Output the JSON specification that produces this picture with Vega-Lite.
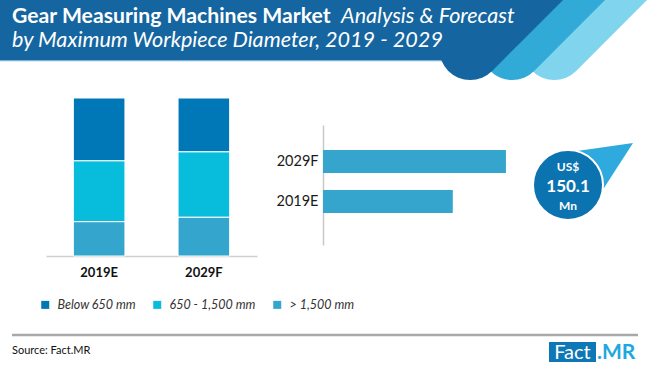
{
  "$schema": "https://vega.github.io/schema/vega-lite/v6.json",
  "width": 650,
  "height": 376,
  "padding": 0,
  "autosize": {"type": "none"},
  "background": "white",
  "config": {"view": {"stroke": null}, "font": "Lato"},
  "datasets": {
    "share": [
      {"year": "2019E", "segment": "Below 650 mm", "share": 39.8, "rank": 3},
      {"year": "2019E", "segment": "650 - 1,500 mm", "share": 38.5, "rank": 2},
      {"year": "2019E", "segment": "> 1,500 mm", "share": 21.7, "rank": 1},
      {"year": "2029F", "segment": "Below 650 mm", "share": 34.1, "rank": 3},
      {"year": "2029F", "segment": "650 - 1,500 mm", "share": 41.4, "rank": 2},
      {"year": "2029F", "segment": "> 1,500 mm", "share": 24.5, "rank": 1}
    ],
    "market": [
      {"year": "2029F", "value": 150.1},
      {"year": "2019E", "value": 106.5}
    ]
  },
  "resolve": {
    "scale": {"x": "independent", "y": "independent"},
    "axis": {"x": "independent", "y": "independent"}
  },
  "layer": [
    {
      "data": {"values": [{}]},
      "layer": [
        {
          "mark": {"type": "rule", "strokeWidth": 62, "strokeCap": "round", "color": "#80d4ee", "clip": true},
          "encoding": {
            "x": {"datum": 554.2, "type": "quantitative", "scale": {"domain": [0, 650], "range": [0, 650], "nice": false, "zero": false}, "axis": null},
            "y": {"datum": 49, "type": "quantitative", "scale": {"domain": [0, 376], "range": [0, 376], "nice": false, "zero": false}, "axis": null},
            "x2": {"datum": 674.2},
            "y2": {"datum": -71}
          }
        },
        {
          "mark": {"type": "rule", "strokeWidth": 62, "strokeCap": "round", "color": "#31aad8", "clip": true},
          "encoding": {"x": {"datum": 512.2}, "y": {"datum": 49}, "x2": {"datum": 632.2}, "y2": {"datum": -71}}
        },
        {
          "mark": {"type": "rect", "color": "#1565a0"},
          "encoding": {"x": {"datum": 0}, "x2": {"datum": 480}, "y": {"datum": 0}, "y2": {"datum": 60}}
        },
        {
          "mark": {"type": "rule", "strokeWidth": 1.2, "color": "#7fb0d6"},
          "encoding": {"x": {"datum": 0}, "x2": {"datum": 445}, "y": {"datum": 60.6}}
        },
        {
          "mark": {"type": "rule", "strokeWidth": 62, "strokeCap": "round", "color": "#1565a0", "clip": true},
          "encoding": {"x": {"datum": 470.2}, "y": {"datum": 49}, "x2": {"datum": 590.2}, "y2": {"datum": -71}}
        },
        {
          "mark": {"type": "text", "align": "left", "baseline": "alphabetic", "font": "Lato", "fontSize": 21.2, "fontWeight": "bold", "color": "white"},
          "encoding": {"x": {"datum": 12}, "y": {"datum": 23}, "text": {"value": "Gear Measuring Machines Market"}}
        },
        {
          "mark": {"type": "text", "align": "left", "baseline": "alphabetic", "font": "Lato", "fontSize": 21.6, "fontStyle": "italic", "color": "white"},
          "encoding": {"x": {"datum": 341}, "y": {"datum": 23}, "text": {"value": "Analysis & Forecast"}}
        },
        {
          "mark": {"type": "text", "align": "left", "baseline": "alphabetic", "font": "Lato", "fontSize": 21.6, "fontStyle": "italic", "color": "white"},
          "encoding": {"x": {"datum": 12}, "y": {"datum": 46.5}, "text": {"value": "by Maximum Workpiece Diameter, 2019 - 2029"}}
        },
        {
          "mark": {"type": "rule", "strokeWidth": 2.5, "color": "#a9a9a9"},
          "encoding": {"x": {"datum": 12}, "x2": {"datum": 638}, "y": {"datum": 335}}
        },
        {
          "mark": {"type": "text", "align": "left", "baseline": "middle", "font": "Lato", "fontSize": 11, "color": "#111111"},
          "encoding": {"x": {"datum": 12}, "y": {"datum": 351}, "text": {"value": "Source: Fact.MR"}}
        },
        {
          "mark": {"type": "rect", "color": "#0e77b5"},
          "encoding": {"x": {"datum": 549}, "x2": {"datum": 596}, "y": {"datum": 342}, "y2": {"datum": 362}}
        },
        {
          "mark": {"type": "text", "align": "center", "baseline": "middle", "font": "Lato", "fontSize": 20, "color": "white"},
          "encoding": {"x": {"datum": 572.5}, "y": {"datum": 352.5}, "text": {"value": "Fact"}}
        },
        {
          "mark": {"type": "text", "align": "left", "baseline": "middle", "font": "Lato", "fontSize": 21, "fontWeight": "bold", "color": "#1da8df"},
          "encoding": {"x": {"datum": 597}, "y": {"datum": 352.5}, "text": {"value": ".MR"}}
        },
        {
          "data": {"name": "market"},
          "transform": [{"filter": "datum.year === '2029F'"}],
          "mark": {"type": "point", "shape": "M0,0L0.136,-0.515L0.985,-0.636L0.545,0.045Z", "size": 17424, "filled": true, "color": "#2eaadf", "opacity": 1, "strokeWidth": 0},
          "encoding": {"x": {"datum": 568}, "y": {"datum": 185}}
        },
        {
          "data": {"name": "market"},
          "transform": [{"filter": "datum.year === '2029F'"}],
          "mark": {"type": "point", "shape": "circle", "size": 4900, "filled": true, "fill": "#0a73b0", "stroke": "white", "strokeWidth": 2, "opacity": 1},
          "encoding": {"x": {"datum": 568}, "y": {"datum": 185}}
        },
        {
          "mark": {"type": "text", "align": "center", "baseline": "middle", "font": "Lato", "fontSize": 12, "fontWeight": "bold", "color": "white"},
          "encoding": {"x": {"datum": 568}, "y": {"datum": 167}, "text": {"value": "US$"}}
        },
        {
          "data": {"name": "market"},
          "transform": [{"filter": "datum.year === '2029F'"}],
          "mark": {"type": "text", "align": "center", "baseline": "middle", "font": "Lato", "fontSize": 17, "fontWeight": "bold", "color": "white"},
          "encoding": {"x": {"datum": 568}, "y": {"datum": 187}, "text": {"field": "value", "type": "quantitative", "format": ".1f"}}
        },
        {
          "mark": {"type": "text", "align": "center", "baseline": "middle", "font": "Lato", "fontSize": 12, "fontWeight": "bold", "color": "white"},
          "encoding": {"x": {"datum": 568}, "y": {"datum": 206}, "text": {"value": "Mn"}}
        }
      ]
    },
    {
      "data": {"name": "share"},
      "mark": {"type": "bar", "stroke": "white", "strokeWidth": 1},
      "encoding": {
        "x": {
          "field": "year", "type": "nominal", "sort": ["2019E", "2029F"],
          "scale": {"range": [46, 257], "paddingInner": 0.507, "paddingOuter": 0.261},
          "axis": {"title": null, "orient": "bottom", "offset": -120, "domainColor": "#d0d0d0", "domainWidth": 1.5, "ticks": false, "labelAngle": 0, "labelFont": "Lato", "labelFontWeight": "bold", "labelFontSize": 13, "labelColor": "#111111", "labelPadding": 10, "grid": false}
        },
        "y": {
          "field": "share", "type": "quantitative", "stack": "zero",
          "scale": {"domain": [0, 100], "range": [256, 98], "nice": false, "zero": true},
          "axis": null
        },
        "color": {
          "field": "segment", "type": "nominal",
          "scale": {"domain": ["Below 650 mm", "650 - 1,500 mm", "> 1,500 mm"], "range": ["#0077b6", "#08bcdc", "#34a5cd"]},
          "legend": {"orient": "none", "legendX": 39, "legendY": 298.5, "direction": "horizontal", "title": null, "symbolType": "square", "symbolSize": 64, "symbolStrokeWidth": 0, "labelFont": "Lato", "labelFontStyle": "italic", "labelFontSize": 12.5, "labelColor": "#333333", "labelOffset": 6, "columnPadding": 15, "padding": 0}
        },
        "order": {"field": "rank", "type": "quantitative"}
      }
    },
    {
      "data": {"name": "market"},
      "mark": {"type": "bar", "color": "#35a5cd"},
      "encoding": {
        "y": {
          "field": "year", "type": "nominal", "sort": ["2029F", "2019E"],
          "scale": {"range": [125, 245], "paddingInner": 0.425, "paddingOuter": 0.7125, "align": 0.44},
          "axis": {"title": null, "orient": "left", "offset": -323, "domainColor": "#c8c8c8", "domainWidth": 1.5, "ticks": false, "labelFont": "Lato", "labelFontSize": 14.5, "labelColor": "#1a1a1a", "labelPadding": 5, "grid": false}
        },
        "x": {"field": "value", "type": "quantitative", "scale": {"domain": [0, 160], "range": [323, 518], "nice": false}, "axis": null}
      }
    }
  ]
}
